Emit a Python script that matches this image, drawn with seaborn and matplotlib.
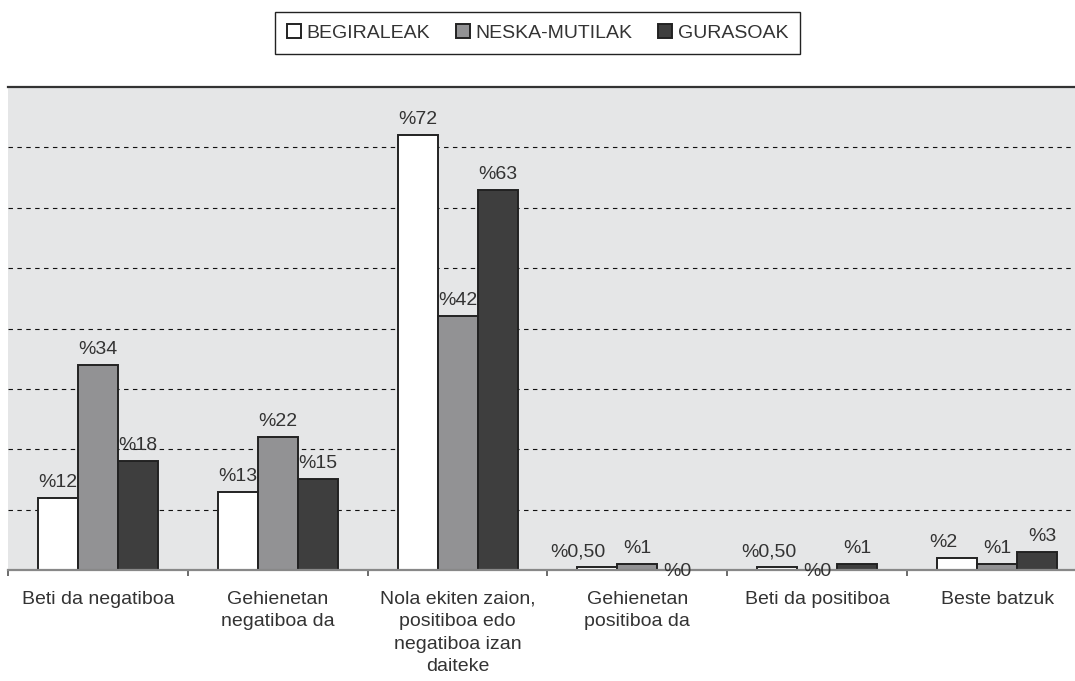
import matplotlib
matplotlib.use("Agg")
import matplotlib.pyplot as plt
import seaborn as sns
import pandas as pd
import numpy as np

categories = [
    "Beti da negatiboa",
    "Gehienetan\nnegatiboa da",
    "Nola ekiten zaion,\npositiboa edo\nnegatiboa izan\ndaiteke",
    "Gehienetan\npositiboa da",
    "Beti da positiboa",
    "Beste batzuk",
]
series_names = ["BEGIRALEAK", "NESKA-MUTILAK", "GURASOAK"]
begiraleak = [12, 13, 72, 0.5, 0.5, 2]
neska_mutilak = [34, 22, 42, 1, 0, 1]
gurasoak = [18, 15, 63, 0, 1, 3]

colors = ["#ffffff", "#929294", "#3e3e3e"]
text_color = "#333333"
FS = 14

df = pd.DataFrame({
    "category": categories * 3,
    "series": [s for s in series_names for _ in categories],
    "value": begiraleak + neska_mutilak + gurasoak,
})

sns.set_theme(style="white")
plt.rcParams["font.family"] = ["Liberation Sans", "DejaVu Sans"]
plt.rcParams["font.size"] = FS
plt.rcParams["text.color"] = text_color

fig = plt.figure(figsize=(10.75, 6.81), dpi=100)
W, H = 1075, 681
left_px, right_px, top_px, bottom_px = 8, 1087, 87, 570
ax = fig.add_axes([left_px / W, (H - bottom_px) / H,
                   (right_px - left_px) / W, (bottom_px - top_px) / H])
ax.set_facecolor("#e5e6e7")

sns.barplot(data=df, x="category", y="value", hue="series",
            hue_order=series_names, order=categories,
            palette=colors, width=0.667, edgecolor="#222222",
            linewidth=1.4, ax=ax, legend=True, saturation=1)

ax.set_xlim(-0.5, len(categories) - 0.5)
ax.set_ylim(0, 80)
ax.set_yticks(np.arange(10, 80, 10))
ax.yaxis.grid(True, color="#111111", linestyle=(0, (4, 4)), linewidth=0.8)
ax.set_axisbelow(True)
ax.tick_params(axis="y", left=False, labelleft=False)
ax.set_xlabel("")
ax.set_ylabel("")

# Spines
for s in ["left", "right"]:
    ax.spines[s].set_visible(False)
ax.spines["top"].set_visible(True)
ax.spines["top"].set_color("#333333")
ax.spines["top"].set_linewidth(1.6)
ax.spines["bottom"].set_color("#888888")
ax.spines["bottom"].set_linewidth(1.6)

# x ticks: labels at centers, tick marks at boundaries
ax.set_xticks(range(len(categories)))
ax.set_xticklabels(categories, color=text_color, fontsize=FS, linespacing=1.42,
                   va="top")
ax.tick_params(axis="x", which="major", length=0, pad=15)
ax.set_xticks(np.arange(-0.5, len(categories) - 0.4, 1.0), minor=True)
ax.tick_params(axis="x", which="minor", length=4.5, width=1.1,
               color="#444444", direction="out", bottom=True)


def fmt(v):
    if float(v).is_integer():
        return f"%{int(v)}"
    return ("%" + f"{v:.2f}").replace(".", ",")


# Small horizontal nudges for crowded labels (in points)
label_nudge = {(0, 3): -14, (0, 4): -6, (0, 5): -10, (2, 5): 4}

series_vals = [begiraleak, neska_mutilak, gurasoak]
for si, cont in enumerate(ax.containers):
    for ci, bar in enumerate(cont):
        v = series_vals[si][ci]
        x = bar.get_x() + bar.get_width() / 2
        dx = label_nudge.get((si, ci), 0)
        if v == 0:
            ax.annotate(fmt(v), (x, 0), xytext=(dx, -1), textcoords="offset points",
                        ha="center", va="center", fontsize=FS, color=text_color,
                        annotation_clip=False)
        else:
            ax.annotate(fmt(v), (x, v), xytext=(dx, 5), textcoords="offset points",
                        ha="center", va="bottom", fontsize=FS, color=text_color)

# Legend
handles, labels = ax.get_legend_handles_labels()
ax.get_legend().remove()
leg = fig.legend(handles, labels, loc="upper center", ncol=3,
                 bbox_to_anchor=(0.5, 1 - 12 / H), frameon=True,
                 fancybox=False, shadow=False, framealpha=1,
                 edgecolor="#222222", fontsize=FS,
                 handlelength=0.72, handleheight=0.72, handletextpad=0.3,
                 columnspacing=1.3, borderpad=0.62, borderaxespad=0)
leg.get_frame().set_linewidth(1.0)
for t in leg.get_texts():
    t.set_color(text_color)

fig.savefig("out.png", dpi=100)
